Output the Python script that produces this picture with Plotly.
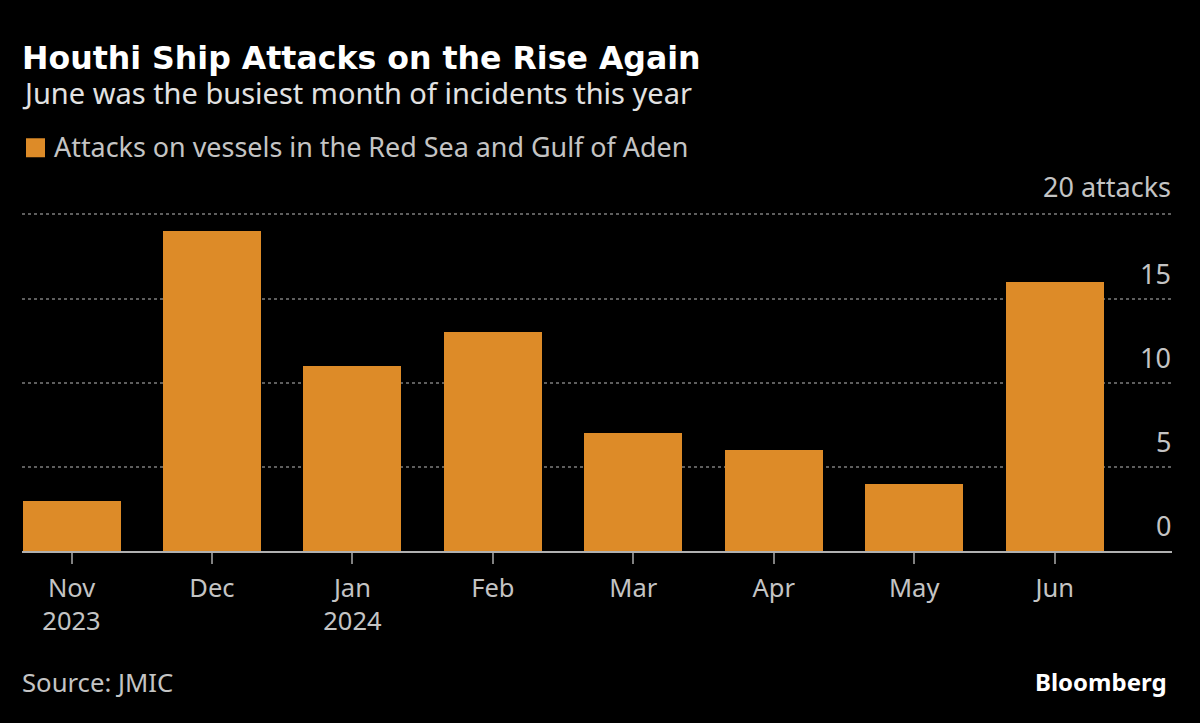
import plotly.graph_objects as go

months = ["Nov<br>2023", "Dec", "Jan<br>2024", "Feb", "Mar", "Apr", "May", "Jun"]
attacks = [3, 19, 11, 13, 7, 6, 4, 16]
y_ticks = [0, 5, 10, 15, 20]
y_tick_labels = ["0", "5", "10", "15", "20 attacks"]

W, H = 1200, 723
FONT = "Noto Sans"
GREY = "#c4c4c4"
ORANGE = "#dd8b28"

x0, x1 = 22, 1172
y_base = 551
unit = 16.84
y_max = 20.5
y_top = y_base - unit * y_max
step = 140.45
pad_l = (71.5 - x0) / step
rng = [-pad_l, -pad_l + (x1 - x0) / step]

fig = go.Figure()
fig.add_trace(go.Bar(
    x=list(range(len(months))), y=attacks, width=98 / step,
    marker=dict(color=ORANGE, line=dict(width=0)),
    name="Attacks on vessels in the Red Sea and Gulf of Aden",
    showlegend=False,
))

fig.update_layout(
    width=W, height=H, autosize=False,
    paper_bgcolor="#000000", plot_bgcolor="#000000",
    margin=dict(l=x0, r=W - x1, t=y_top, b=H - y_base, pad=0),
    font=dict(family=FONT, color=GREY, size=25),
    bargap=0,
    xaxis=dict(
        range=rng, tickmode="array", tickvals=list(range(len(months))), ticktext=months,
        showgrid=False, zeroline=False, showline=True, linecolor="#b0b0b0", linewidth=2,
        ticks="outside", ticklen=11, tickwidth=2, tickcolor="#808080", ticklabelstandoff=2,
        tickfont=dict(size=25.5, color=GREY), fixedrange=True,
    ),
    yaxis=dict(
        range=[0, y_max], side="right", tickmode="array", tickvals=y_ticks,
        showticklabels=False, ticks="",
        showgrid=True, gridcolor="#5e5e5e", gridwidth=2, griddash="dot",
        zeroline=False, showline=False, fixedrange=True,
    ),
    showlegend=False,
)

# y-axis labels sit above their gridlines, right-aligned at the plot edge
for v, lab in zip(y_ticks, y_tick_labels):
    fig.add_annotation(text=lab, xref="paper", yref="y", x=1, y=v, xanchor="right",
                       yanchor="bottom", yshift=8.5 if v == y_ticks[-1] else 6,
                       showarrow=False, borderpad=0,
                       font=dict(size=27, color=GREY))


def text(s, x, y, size, color=GREY, anchor="left", bold=False, family=FONT):
    fig.add_annotation(text=f"<b>{s}</b>" if bold else s, xref="paper", yref="paper",
                       x=(x - x0) / (x1 - x0), y=(y_base - y) / (y_base - y_top),
                       xanchor=anchor, yanchor="middle", showarrow=False, borderpad=0,
                       font=dict(size=size, color=color, family=family))


text("Houthi Ship Attacks on the Rise Again", 20.5, 58, 31.6, "#ffffff", bold=True, family="DejaVu Sans")
text("June was the busiest month of incidents this year", 20.5, 92.5, 29, "#e2e2e2")
text("Attacks on vessels in the Red Sea and Gulf of Aden", 53, 146, 26.9, GREY)
text("Source: JMIC", 21, 683, 25.7, GREY)
text("Bloomberg", 1168, 682, 24, "#ffffff", anchor="right", bold=True)

fig.add_shape(type="rect", xref="paper", yref="paper",
              x0=(26 - x0) / (x1 - x0), x1=(45 - x0) / (x1 - x0),
              y0=(y_base - 157) / (y_base - y_top), y1=(y_base - 138) / (y_base - y_top),
              fillcolor=ORANGE, line=dict(width=0))

fig.write_html("out.html", config={"displayModeBar": False},
               post_script="document.body.style.margin='0';document.body.style.background='#000';")
